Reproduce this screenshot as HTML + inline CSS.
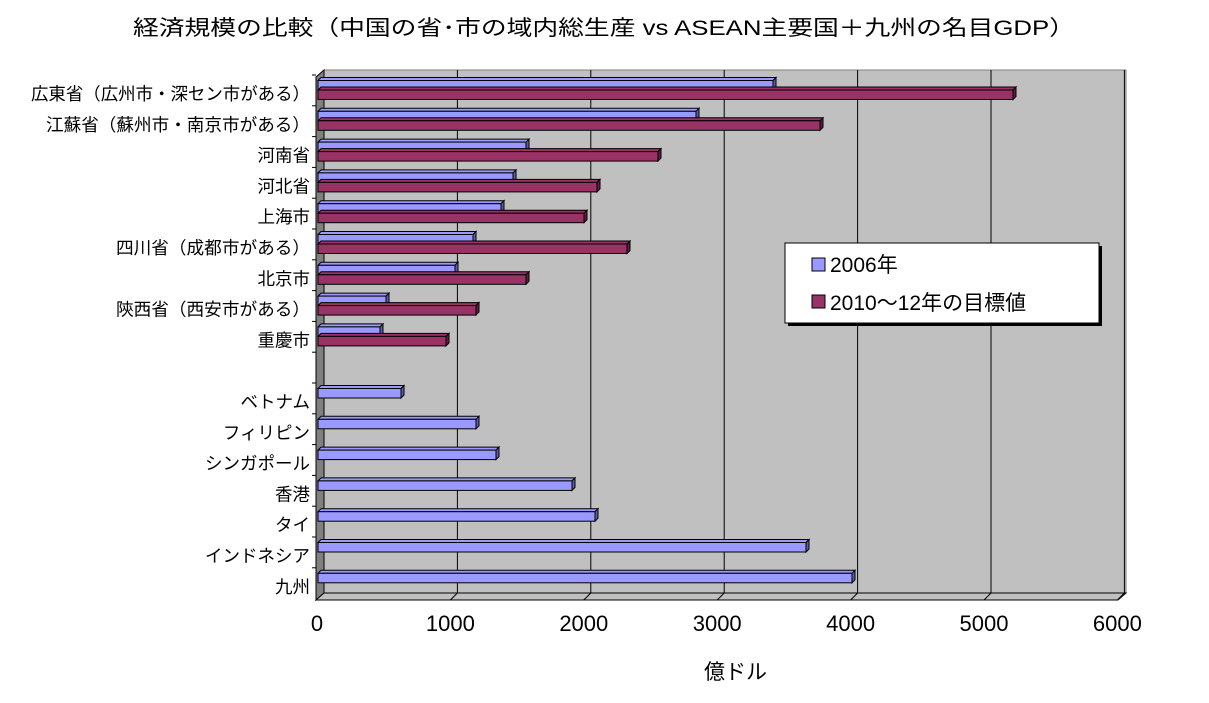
<!DOCTYPE html>
<html><head><meta charset="utf-8"><style>
body{margin:0;background:#fff;width:1209px;height:698px;overflow:hidden}
text{font-family:"Liberation Sans","Noto Sans CJK JP",sans-serif;fill:#000}
</style></head><body>
<svg id="s" width="1209" height="698" xmlns="http://www.w3.org/2000/svg">
<text x="133" y="35" font-size="21" textLength="942" lengthAdjust="spacingAndGlyphs">経済規模の比較（中国の省･市の域内総生産 vs ASEAN主要国＋九州の名目GDP）</text>
<polygon points="324,70 1126,70 1126,593 324,593" fill="#c0c0c0" stroke="#808080"/>
<polygon points="316,77 324,70 324,593 316,600" fill="#808080" stroke="#000" stroke-width="1"/>
<polygon points="316,600 324,593 1126,593 1118,600" fill="#c0c0c0" stroke="#000" stroke-width="1"/>
<g id="g"></g>
<g id="b"></g>
<rect x="788" y="246" width="314" height="80" fill="#000"/>
<rect x="785" y="243" width="314" height="80" fill="#fff" stroke="#000"/>
<rect x="812" y="258" width="13" height="13" fill="#9999ff" stroke="#000"/>
<text x="830" y="272" font-size="21">2006年</text>
<rect x="812" y="295" width="13" height="13" fill="#993366" stroke="#000"/>
<text x="830" y="310" font-size="21">2010～12年の目標値</text>
<text x="704" y="679" font-size="21">億ドル</text>
</svg>
<script>
var ns="http://www.w3.org/2000/svg",g=document.getElementById('g'),b=document.getElementById('b');
function el(p,t,a,tx){var e=document.createElementNS(ns,t);for(var k in a)e.setAttribute(k,a[k]);if(tx)e.textContent=tx;p.appendChild(e);return e;}
for(var k=1;k<=6;k++){var x=324+133.4*k;el(g,'line',{x1:x,y1:70,x2:x,y2:593,stroke:'#000'});el(g,'line',{x1:x,y1:593,x2:x-7,y2:600,stroke:'#000'});}
for(var k=0;k<=6;k++){el(g,'text',{x:317+133.4*k,y:631,'font-size':22,'text-anchor':'middle'},String(k*1000));}
var rows=[["広東省（広州市・深セン市がある）",773,1013,279],["江蘇省（蘇州市・南京市がある）",696,820,264],["河南省",526,658],["河北省",513,597],["上海市",501,584],["四川省（成都市がある）",473,627,194],["北京市",455,526],["陝西省（西安市がある）",386,476,194],["重慶市",380,446],["",0,0],["ベトナム",401,0],["フィリピン",476,0],["シンガポール",496,0],["香港",572,0],["タイ",595,0],["インドネシア",806,0],["九州",852,0]];
function bar(x2,y,h,c,d){
 el(b,'polygon',{points:(318)+','+y+' '+(321)+','+(y-3)+' '+(x2+3)+','+(y-3)+' '+x2+','+y,fill:c,stroke:'#000','stroke-width':1});
 el(b,'polygon',{points:x2+','+y+' '+(x2+3)+','+(y-3)+' '+(x2+3)+','+(y+h-3)+' '+x2+','+(y+h),fill:d,stroke:'#000','stroke-width':1});
 el(b,'rect',{x:318,y:y,width:x2-318,height:h,fill:c,stroke:'#000','stroke-width':1});
}
for(var i=0;i<rows.length;i++){
 var y0=73+30.8*i,r=rows[i];
 el(g,'line',{x1:312,y1:y0+2,x2:316,y2:y0+2,stroke:'#000'});
 if(r[0]){var a={x:310,y:y0+27,'font-size':17.5,'text-anchor':'end'};if(r[3]){a.textLength=r[3];a.lengthAdjust='spacingAndGlyphs';}el(g,'text',a,r[0]);}
 if(r[1])bar(r[1],y0+7.5,9.5,'#9999ff','#5c5ca0');
 if(r[2])bar(r[2],y0+17,9.5,'#993366','#5e1f40');
}
el(g,'line',{x1:316,y1:77,x2:316,y2:600,stroke:'#000'});
</script>
</body></html>
